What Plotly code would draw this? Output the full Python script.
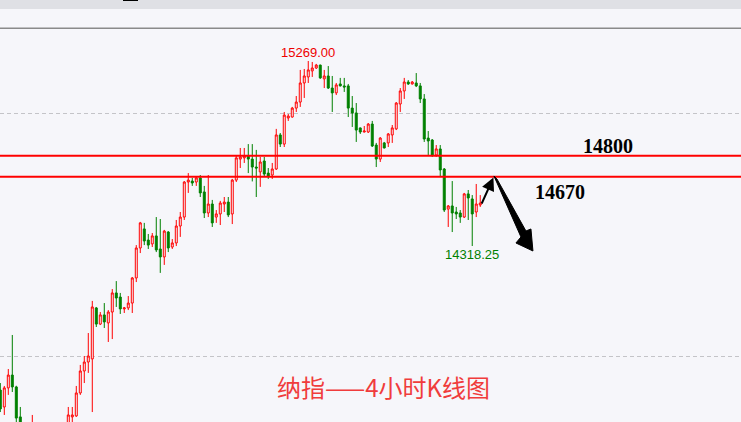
import plotly.graph_objects as go

# ---- data (4-hour candles, index order) ----
opens = [13578, 13491, 13589, 13655, 13594, 13440, 13380, 13330, 13360, 13400,
         13300, 13250, 13280, 13220, 13260, 13310, 13360, 13400, 13440, 13445,
         13563, 13676, 13722, 13738, 14000, 13917, 13964, 13923, 13979, 14077,
         14056, 13995, 14000, 14025, 14154, 14308, 14406, 14349, 14329, 14370,
         14303, 14262, 14390, 14313, 14334, 14421, 14467, 14647, 14652, 14647,
         14668, 14596, 14488, 14534, 14467, 14483, 14534, 14544, 14483, 14657,
         14765, 14771, 14781, 14765, 14724, 14699, 14755, 14693, 14683, 14714,
         14889, 14842, 14976, 14981, 15027, 15058, 15156, 15187, 15218, 15233,
         15248, 15177, 15192, 15130, 15105, 15151, 15141, 15141, 15027, 15002,
         14925, 14904, 14904, 14945, 14837, 14765, 14848, 14848, 14889, 14920,
         15048, 15115, 15161, 15151, 15156, 15141, 15074, 14873, 14863, 14786,
         14817, 14714, 14508, 14524, 14493, 14488, 14467, 14586, 14560, 14493,
         14529]
highs = [13614, 13599, 13686, 13861, 13600, 13491, 13400, 13390, 13450, 13405,
         13330, 13300, 13300, 13280, 13330, 13380, 13400, 13491, 13491, 13599,
         13707, 13753, 13871, 14036, 14005, 13979, 14025, 13989, 14097, 14138,
         14077, 14005, 14061, 14159, 14323, 14442, 14437, 14380, 14385, 14467,
         14457, 14401, 14395, 14354, 14452, 14493, 14652, 14693, 14668, 14678,
         14683, 14627, 14683, 14555, 14503, 14550, 14570, 14570, 14663, 14781,
         14822, 14822, 14842, 14842, 14812, 14776, 14776, 14719, 14745, 14920,
         14899, 15007, 14997, 15033, 15089, 15223, 15228, 15269, 15264, 15254,
         15250, 15223, 15243, 15192, 15156, 15182, 15182, 15151, 15089, 15053,
         14927, 14935, 14950, 14961, 14848, 14878, 14853, 14899, 14940, 15058,
         15130, 15182, 15171, 15166, 15207, 15156, 15099, 14909, 14868, 14837,
         14837, 14719, 14529, 14652, 14519, 14503, 14591, 14606, 14580, 14637,
         14580]
lows = [13465, 13450, 13553, 13568, 13380, 13330, 13300, 13310, 13320, 13280,
        13220, 13230, 13200, 13190, 13240, 13290, 13340, 13380, 13390, 13440,
        13553, 13614, 13666, 13465, 13902, 13912, 13897, 13825, 13840, 14005,
        13969, 13974, 13989, 13974, 14133, 14282, 14323, 14303, 14313, 14287,
        14180, 14221, 14287, 14303, 14318, 14365, 14452, 14591, 14627, 14627,
        14570, 14462, 14467, 14416, 14437, 14426, 14493, 14467, 14431, 14647,
        14719, 14745, 14693, 14650, 14570, 14622, 14673, 14663, 14663, 14709,
        14827, 14827, 14961, 14978, 15007, 15033, 15079, 15156, 15187, 15228,
        15177, 15130, 15125, 15007, 15094, 15138, 15110, 14981, 14930, 14853,
        14894, 14902, 14899, 14827, 14724, 14750, 14820, 14827, 14848, 14914,
        15007, 15074, 15146, 15148, 15135, 15053, 14853, 14786, 14776, 14776,
        14673, 14493, 14416, 14390, 14457, 14437, 14462, 14452, 14318.25, 14467,
        14519]
closes = [13481, 13589, 13655, 13594, 13434, 13372, 13330, 13370, 13400, 13300,
          13250, 13280, 13220, 13260, 13310, 13360, 13390, 13450, 13450, 13563,
          13676, 13722, 13753, 14005, 13917, 13964, 13928, 13979, 14077, 14051,
          13995, 14000, 14025, 14154, 14308, 14437, 14344, 14323, 14370, 14298,
          14262, 14395, 14308, 14334, 14421, 14467, 14647, 14657, 14642, 14668,
          14591, 14488, 14534, 14437, 14483, 14539, 14544, 14478, 14657, 14771,
          14776, 14781, 14765, 14724, 14719, 14750, 14688, 14678, 14714, 14889,
          14842, 14991, 14986, 15027, 15058, 15156, 15192, 15223, 15233, 15248,
          15182, 15192, 15130, 15105, 15146, 15141, 15135, 15027, 15002, 14914,
          14904, 14909, 14945, 14832, 14765, 14873, 14822, 14894, 14925, 15053,
          15115, 15161, 15151, 15161, 15141, 15074, 14868, 14858, 14786, 14817,
          14709, 14503, 14524, 14488, 14483, 14467, 14586, 14565, 14483, 14534,
          14539]
bars = list(range(len(opens)))

high_value, high_label = 15269, "15269.00"
low_value, low_label = 14318.25, "14318.25"
level_upper, level_upper_label = 14782, "14800"
level_lower, level_lower_label = 14674, "14670"
grid_levels = [13750, 15000]
title_text = "纳指——4小时K线图"

BG = "rgb(246,246,250)"
RED = "#ff0000"
GREEN = "#008000"

fig = go.Figure()
fig.add_trace(go.Candlestick(
    x=bars, open=opens, high=highs, low=lows, close=closes,
    increasing=dict(line=dict(color=RED, width=1), fillcolor=BG),
    decreasing=dict(line=dict(color=GREEN, width=1), fillcolor=GREEN),
    whiskerwidth=0, showlegend=False, hoverinfo="skip",
))

i_hi = highs.index(high_value)
i_lo = lows.index(low_value)

shapes = [
    # top toolbar band
    dict(type="rect", xref="paper", yref="paper", x0=0, x1=1,
         y0=1 + 20 / 393, y1=1 + 29 / 393, fillcolor="rgb(223,224,229)",
         line=dict(width=0), layer="above"),
    dict(type="rect", xref="paper", yref="paper", x0=123 / 741, x1=138 / 741,
         y0=1 + 28 / 393, y1=1 + 29 / 393, fillcolor="black",
         line=dict(width=0), layer="above"),
    dict(type="line", xref="paper", yref="paper", x0=0, x1=1,
         y0=1 + 0.8 / 393, y1=1 + 0.8 / 393, line=dict(color="#8a8a8a", width=1.5),
         layer="above"),
    # horizontal levels
    dict(type="line", xref="paper", yref="y", x0=0, x1=1,
         y0=level_upper, y1=level_upper, line=dict(color=RED, width=2), layer="above"),
    dict(type="line", xref="paper", yref="y", x0=0, x1=1,
         y0=level_lower, y1=level_lower, line=dict(color=RED, width=2), layer="above"),
    # tapered down arrow
    dict(type="path", xref="x", yref="y",
         path="M 123.43 14678 L 124.18 14662.7 L 131.43 14395.4 L 132.68 14405.7 "
              "L 133.18 14292.6 L 128.93 14333.7 L 130.18 14364.6 Z",
         fillcolor="black", line=dict(color="black", width=1), layer="above"),
]

annotations = [
    dict(x=i_hi, y=high_value, text=high_label, showarrow=False, yshift=8,
         yanchor="middle", font=dict(family="Liberation Sans", size=13, color="#ee0000")),
    dict(x=i_lo, y=low_value, text=low_label, showarrow=False, yshift=-8,
         yanchor="middle", font=dict(family="Liberation Sans", size=13, color=GREEN)),
    dict(x=151.9, y=14830, text="<b>%s</b>" % level_upper_label, showarrow=False,
         yanchor="middle", font=dict(family="Liberation Serif", size=20, color="black")),
    dict(x=140.0, y=14594, text="<b>%s</b>" % level_lower_label, showarrow=False,
         yanchor="middle", font=dict(family="Liberation Serif", size=20, color="black")),
    dict(xref="paper", yref="paper", x=0.5175, y=0.0898, text=title_text,
         xanchor="center", yanchor="middle", showarrow=False,
         font=dict(family="Noto Sans CJK SC", size=24, color="#f03c3c")),
    # small up arrow
    dict(x=123.3, y=14670, ax=120.2, ay=14529, axref="x", ayref="y", xref="x", yref="y",
         text="", showarrow=True, arrowhead=2, arrowsize=1.3, arrowwidth=2,
         arrowcolor="black"),
]

fig.update_layout(
    width=741, height=422,
    margin=dict(l=0, r=0, t=29, b=0),
    paper_bgcolor=BG, plot_bgcolor=BG,
    shapes=shapes, annotations=annotations,
    xaxis=dict(range=[-0.075, 185.2], showgrid=False, zeroline=False,
               showticklabels=False, rangeslider=dict(visible=False), fixedrange=True),
    yaxis=dict(range=[13413.8, 15433.4], tickvals=grid_levels, showgrid=True,
               gridcolor="#c4c4c8", griddash="4px,3px", gridwidth=1,
               zeroline=False, showticklabels=False, fixedrange=True),
)

fig.write_html(
    "out.html",
    config={"displayModeBar": False, "staticPlot": True},
    post_script="document.body.style.margin='0';document.body.style.overflow='hidden';",
)
